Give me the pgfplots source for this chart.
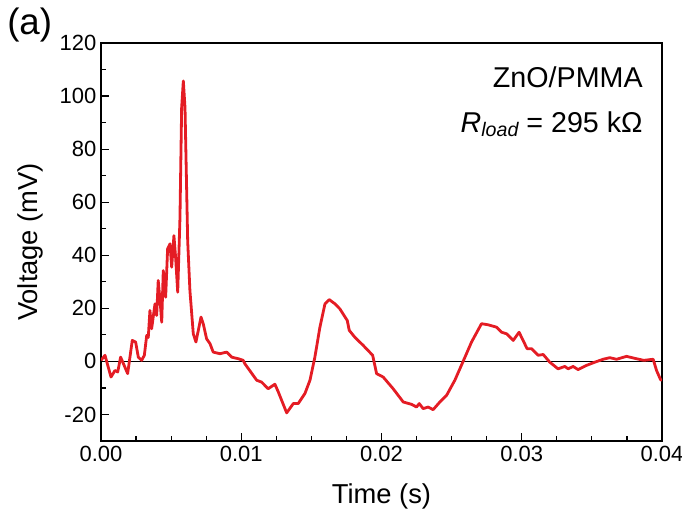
\documentclass[border=0pt]{standalone}
\usepackage{pgfplots}
\pgfplotsset{compat=1.18}
\usepackage{fontspec}
\setmainfont{Liberation Sans}
\definecolor{curvered}{RGB}{228,28,36}
\begin{document}
\begin{tikzpicture}
\useasboundingbox (0,0) rectangle (511.5pt,381.75pt);
\begin{axis}[
  at={(75.75pt,51pt)}, anchor=south west,
  scale only axis, width=420.75pt, height=298.5pt,
  xmin=0, xmax=0.04, ymin=-30, ymax=120,
  xtick={0,0.01,0.02,0.03,0.04},
  ytick={-20,0,20,40,60,80,100,120},
  minor x tick num=3, minor y tick num=1,
  scaled x ticks=false,
  xticklabel style={/pgf/number format/fixed,/pgf/number format/fixed zerofill,/pgf/number format/precision=2},
  /pgf/number format/assume math mode=true,
  tick align=inside, xtick pos=bottom, ytick pos=left,
  major tick length=6pt, minor tick length=3.5pt,
  tick style={line width=0.9pt,black},
  axis line style={line width=1.1pt},
  ticklabel style={font=\fontsize{16.5}{18}\selectfont},
  xlabel={Time (s)}, ylabel={Voltage (mV)},
  label style={font=\fontsize{20.5}{23}\selectfont},
  xlabel style={at={(axis description cs:0.5,-0.156)}, anchor=base},
  ylabel style={at={(axis description cs:-0.1266,0.5)}, anchor=center},
  clip=true,
]
\addplot[black, line width=0.9pt] coordinates {(0,0) (0.04,0)};
\addplot[curvered, line width=2.1pt, line join=round] coordinates {
(0,0.4) (0.000285,2.3) (0.000713,-5.9) (0.000998,-3.4) (0.00119,-4) (0.0014,1.6)
(0.0019,-4.6) (0.00223,7.9) (0.00247,7.3) (0.00266,1.6) (0.0029,0.4) (0.00309,2.3)
(0.00326,9.8) (0.00337,9) (0.00349,19.2) (0.00361,12.3) (0.00385,21.7) (0.00397,17.3)
(0.00408,30.5) (0.00421,22.9) (0.00433,14.8) (0.00444,34.2) (0.00461,24.2) (0.00475,42.4)
(0.00492,44.3) (0.00504,35.5) (0.0052,47.4) (0.00532,39.2) (0.00547,26.1) (0.00563,54)
(0.00575,95.6) (0.00587,105.7) (0.00599,95.6) (0.00618,45.5) (0.00634,26.7) (0.00658,10.4)
(0.00677,7.3) (0.00713,16.7) (0.00729,14.2) (0.00753,8.5) (0.00777,6.7) (0.008,3.5)
(0.00848,2.9) (0.00896,3.5) (0.00932,1.6) (0.00979,1) (0.01014,0.4) (0.01026,-0.9)
(0.0111,-7.1) (0.01145,-7.8) (0.01192,-10.3) (0.0124,-8.6) (0.01264,-11.5) (0.01324,-19.4)
(0.01371,-15.9) (0.01406,-15.9) (0.01454,-12.1) (0.0149,-7.1) (0.01525,1.6) (0.01561,12.9)
(0.01597,21.7) (0.01627,23.3) (0.01668,21.7) (0.01703,19.8) (0.01756,15.4) (0.0177,11.7)
(0.0181,9.1) (0.0187,6) (0.01937,2.3) (0.01965,-4.6) (0.02012,-5.9) (0.02083,-10.3)
(0.02155,-15.3) (0.02215,-16.2) (0.0225,-17.2) (0.02269,-15.9) (0.02297,-17.8) (0.02333,-17.2)
(0.02368,-18.2) (0.02416,-15.3) (0.02464,-12.8) (0.02523,-7.1) (0.02582,0) (0.02642,7.3)
(0.02713,14.2) (0.0276,13.8) (0.0282,12.9) (0.02856,11) (0.02892,10.4) (0.02939,7.9)
(0.02981,11) (0.03038,4.8) (0.0307,4.8) (0.03117,2.3) (0.03153,2.6) (0.032,-0.3)
(0.03259,-2.8) (0.03307,-1.9) (0.03331,-2.8) (0.03366,-1.9) (0.03402,-3.1) (0.03462,-1.5)
(0.03521,-0.3) (0.0358,0.8) (0.03628,1.4) (0.03676,0.8) (0.03747,1.9) (0.03818,1)
(0.0387,0.4) (0.03937,0.8) (0.03961,-3.4) (0.03989,-6.8) (0.04,-7.2)
};
\node[anchor=base east, inner sep=0pt, font=\fontsize{21.5}{24}\selectfont] at (axis description cs:0.966,0.889) {ZnO/PMMA};
\node[anchor=base east, inner sep=0pt, font=\fontsize{21.5}{24}\selectfont] at (axis description cs:0.966,0.776) {\textit{R}\raisebox{-3.5pt}{\fontsize{14.7}{16}\selectfont\itshape load} = 295 kΩ};
\end{axis}
\node[anchor=base west, inner sep=0pt, font=\fontsize{27.5}{30}\selectfont] at (5.25pt,355.5pt) {(a)};
\end{tikzpicture}
\end{document}
